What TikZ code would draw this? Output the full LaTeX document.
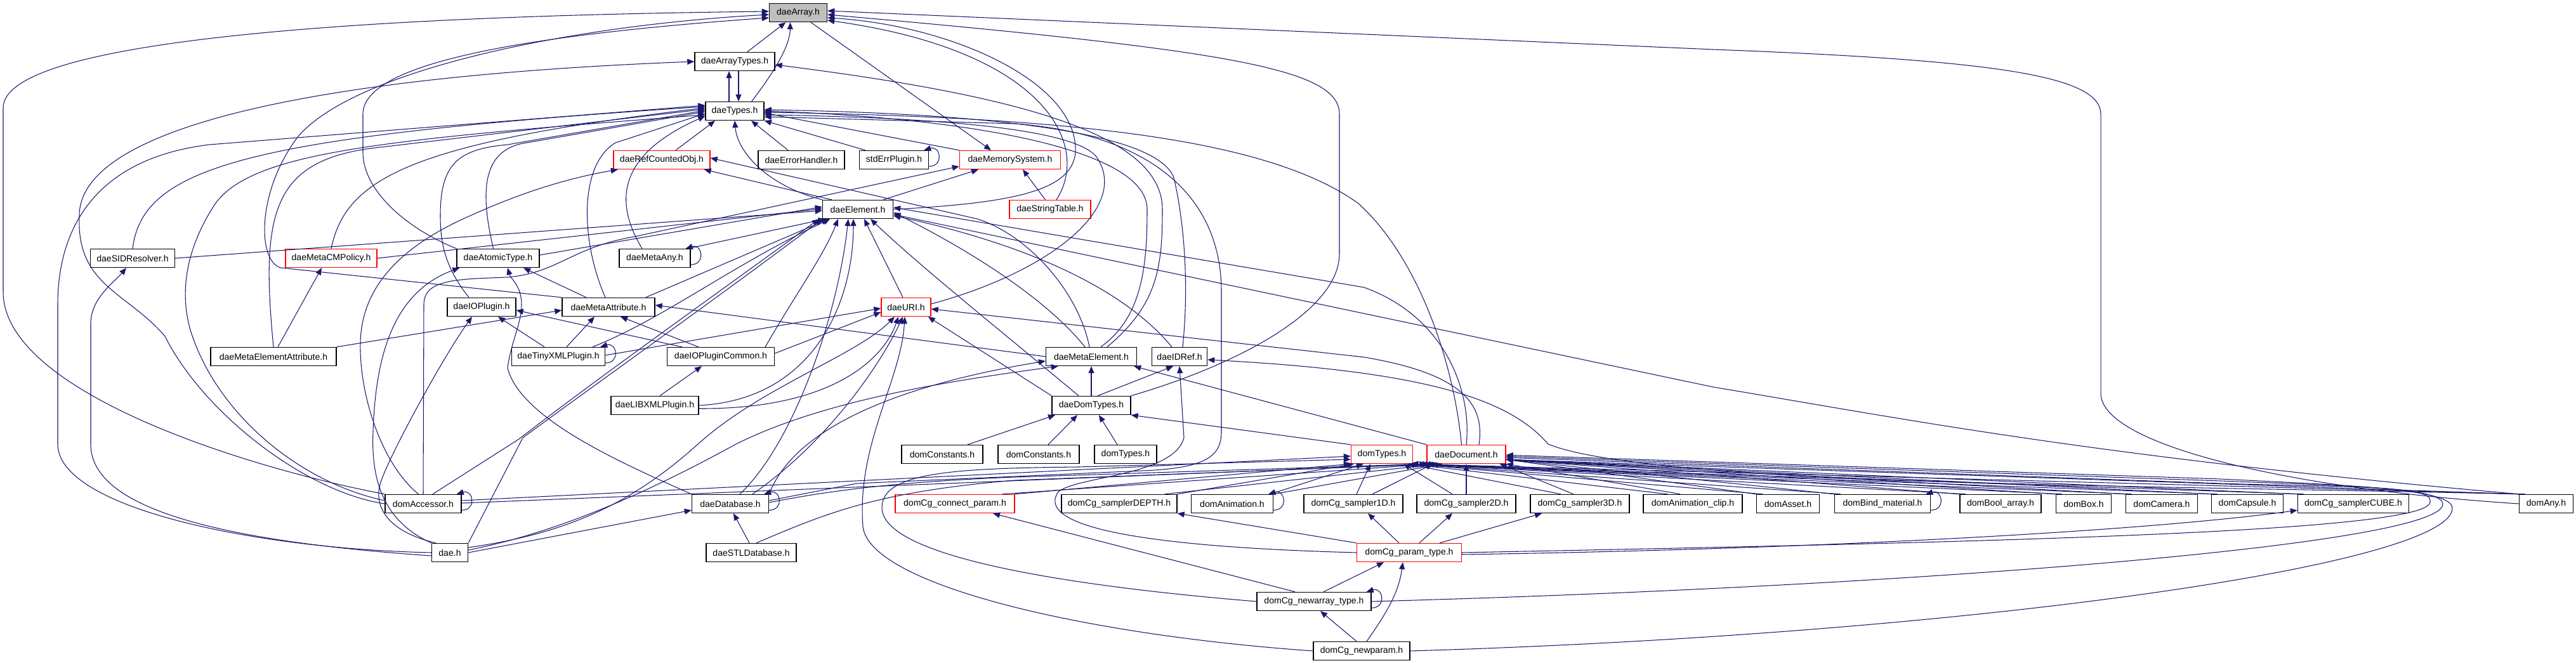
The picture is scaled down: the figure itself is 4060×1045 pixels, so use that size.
\documentclass[tikz,border=0pt]{standalone}
\usepackage{fontspec}
\setmainfont{Liberation Sans}
\usetikzlibrary{arrows.meta}
\definecolor{edgeblue}{HTML}{191970}
\newcommand{\selfloop}[1]{\draw [dep] ([yshift=1mm]#1.south east) .. controls +(24,0) and +(26,-8) .. ([xshift=-1.6mm]#1.north east);}

\begin{document}
\begin{tikzpicture}[x=0.2mm, y=-0.2mm, >={Triangle[length=2.2mm, width=1.8mm]},
    hdr/.style={rectangle, draw=black, fill=white, line width=0.8pt,
                minimum height=5.8mm, inner sep=0pt, text centered,
                font=\fontsize{8}{9}\selectfont},
    cut/.style={hdr, draw=red},
    root/.style={hdr, fill=black!25},
    dep/.style={->, line width=0.6pt, edgeblue}]

    \fill [white] (0,0) rectangle (4060,1045);
    \useasboundingbox (0,0) rectangle (4060,1045);

    % ---------------- headers ----------------
    \node (arr)       [root, minimum width=18.2mm] at (1258,20)   {daeArray.h};
    \node (arrtyp)    [hdr,  minimum width=25.2mm] at (1158,97)   {daeArrayTypes.h};
    \node (types)     [hdr,  minimum width=18.4mm] at (1158,175)  {daeTypes.h};
    \node (refobj)    [cut,  minimum width=30.4mm] at (1043,252)  {daeRefCountedObj.h};
    \node (errh)      [hdr,  minimum width=27.2mm] at (1263,252)  {daeErrorHandler.h};
    \node (stderr)    [hdr,  minimum width=21.8mm] at (1409,252)  {stdErrPlugin.h};
    \node (memsys)    [cut,  minimum width=31.8mm] at (1592,252)  {daeMemorySystem.h};
    \node (elem)      [hdr,  minimum width=22.2mm] at (1352,330)  {daeElement.h};
    \node (strtab)    [cut,  minimum width=25.6mm] at (1655,330)  {daeStringTable.h};
    \node (sid)       [hdr,  minimum width=26.6mm] at (209,407)   {daeSIDResolver.h};
    \node (cmpol)     [cut,  minimum width=28.8mm] at (522,407)   {daeMetaCMPolicy.h};
    \node (atomic)    [hdr,  minimum width=26mm]   at (785,407)   {daeAtomicType.h};
    \node (metaany)   [hdr,  minimum width=22.4mm] at (1032,407)  {daeMetaAny.h};
    \node (iopl)      [hdr,  minimum width=21.6mm] at (759,484)   {daeIOPlugin.h};
    \node (metaattr)  [hdr,  minimum width=29.2mm] at (959,484)   {daeMetaAttribute.h};
    \node (uri)       [cut,  minimum width=15.6mm] at (1428,484)  {daeURI.h};
    \node (metaelattr)[hdr,  minimum width=39.6mm] at (431,562)   {daeMetaElementAttribute.h};
    \node (tinyxml)   [hdr,  minimum width=29.4mm] at (880,562)   {daeTinyXMLPlugin.h};
    \node (ioplc)     [hdr,  minimum width=33.8mm] at (1136,562)  {daeIOPluginCommon.h};
    \node (metael)    [hdr,  minimum width=28.6mm] at (1720,562)  {daeMetaElement.h};
    \node (idref)     [hdr,  minimum width=17.4mm] at (1859,562)  {daeIDRef.h};
    \node (libxml)    [hdr,  minimum width=27.6mm] at (1032,639)  {daeLIBXMLPlugin.h};
    \node (domtypes)  [hdr,  minimum width=24.8mm] at (1720,639)  {daeDomTypes.h};
    \node (const1)    [hdr,  minimum width=25.6mm] at (1485,716)  {domConstants.h};
    \node (const2)    [hdr,  minimum width=25.6mm] at (1637,716)  {domConstants.h};
    \node (dtypes1)   [hdr,  minimum width=19.6mm] at (1774,716)  {domTypes.h};
    \node (dtypes2)   [cut,  minimum width=19.4mm] at (2178,716)  {domTypes.h};
    \node (doc)       [cut,  minimum width=24.8mm] at (2311,716)  {daeDocument.h};
    \node (accessor)  [hdr,  minimum width=24mm]   at (667,794)   {domAccessor.h};
    \node (database)  [hdr,  minimum width=24.2mm] at (1151,794)  {daeDatabase.h};
    \node (cgconn)    [cut,  minimum width=37.6mm] at (1505,794)  {domCg\_connect\_param.h};
    \node (cgdepth)   [hdr,  minimum width=36.4mm] at (1764,794)  {domCg\_samplerDEPTH.h};
    \node (anim)      [hdr,  minimum width=25.8mm] at (1942,794)  {domAnimation.h};
    \node (cg1d)      [hdr,  minimum width=31.2mm] at (2133,794)  {domCg\_sampler1D.h};
    \node (cg2d)      [hdr,  minimum width=31.2mm] at (2311,794)  {domCg\_sampler2D.h};
    \node (cg3d)      [hdr,  minimum width=31.2mm] at (2490,794)  {domCg\_sampler3D.h};
    \node (animclip)  [hdr,  minimum width=31.2mm] at (2668,794)  {domAnimation\_clip.h};
    \node (asset)     [hdr,  minimum width=19.8mm] at (2818,794)  {domAsset.h};
    \node (bindmat)   [hdr,  minimum width=30.2mm] at (2967,794)  {domBind\_material.h};
    \node (boolarr)   [hdr,  minimum width=25.6mm] at (3153,794)  {domBool\_array.h};
    \node (box)       [hdr,  minimum width=17.4mm] at (3284,794)  {domBox.h};
    \node (camera)    [hdr,  minimum width=22.6mm] at (3407,794)  {domCamera.h};
    \node (capsule)   [hdr,  minimum width=22.6mm] at (3542,794)  {domCapsule.h};
    \node (cgcube)    [hdr,  minimum width=35mm]   at (3709,794)  {domCg\_samplerCUBE.h};
    \node (any)       [hdr,  minimum width=17mm]   at (4013,794)  {domAny.h};
    \node (dae)       [hdr,  minimum width=11.4mm] at (709,871)   {dae.h};
    \node (stldb)     [hdr,  minimum width=28.4mm] at (1184,871)  {daeSTLDatabase.h};
    \node (paramtype) [cut,  minimum width=33mm]   at (2221,871)  {domCg\_param\_type.h};
    \node (newarr)    [hdr,  minimum width=36mm]   at (2071,948)  {domCg\_newarray\_type.h};
    \node (newparam)  [hdr,  minimum width=30.4mm] at (2146,1026) {domCg\_newparam.h};

    % ---------------- top of the graph ----------------
    \draw [dep] (arrtyp) -- (arr);
    \draw [dep] ([xshift=-4mm]types.north east) .. controls (1215,120) and (1245,75) .. ([xshift=-2.5mm]arr.south);
    \draw [dep] ([xshift=-1.8mm]types.north) -- ([xshift=-1.8mm]arrtyp.south);
    \draw [dep] ([xshift=1.2mm]arrtyp.south) -- ([xshift=1.2mm]types.north);
    \draw [dep] ([xshift=4mm]arr.south) -- ([xshift=-6mm]memsys.north);
    \draw [dep] ([xshift=4.4mm]refobj.north) -- ([xshift=-6.2mm]types.south);
    \draw [dep] ([xshift=-4.2mm]errh.north) -- ([xshift=5.2mm]types.south);
    \draw [dep] ([xshift=-9mm]stderr.north) -- (types.south east);
    \draw [dep] (memsys.north west) -- ([yshift=-0.6mm]types.east);
    \selfloop{stderr}
    \draw [dep] (elem.north west) .. controls (1210,293) and (1162,240) .. (types.south);
    \draw [dep] ([xshift=3mm]elem.north west) -- ([xshift=-2mm]refobj.south east);
    \draw [dep] ([xshift=8mm]elem.north) -- ([xshift=-10mm]memsys.south);
    \draw [dep] (elem.east) .. controls (1600,320) and (1690,300) .. (1695,240) .. controls (1700,130) and (1500,40) .. ([yshift=-1.6mm]arr.east);
    \draw [dep] ([xshift=-1.5mm]strtab.north) -- ([xshift=4mm]memsys.south);
    \draw [dep] ([xshift=2mm]strtab.north) .. controls (1720,230) and (1650,80) .. ([yshift=-2.4mm]arr.east);

    % long routes into daeArray.h
    \draw [dep] (domtypes.north east) .. controls (1950,575) and (2111,490) .. (2111,400) -- (2111,180) .. controls (2111,110) and (1950,80) .. ([yshift=-0.6mm]arr.east);
    \draw [dep] (any.west) .. controls (3600,770) and (3311,700) .. (3311,620) -- (3311,180) .. controls (3311,120) and (3150,95) .. (2700,78) -- ([yshift=0.6mm]arr.east);
    \draw [dep] (accessor.north west) .. controls (400,740) and (5,620) .. (5,460) -- (5,170) .. controls (5,60) and (600,25) .. ([yshift=0.4mm]arr.west);
    \draw [dep] (metaattr.north west) -- (442,422) .. controls (405,410) and (405,300) .. (470,215) .. controls (560,110) and (900,40) .. ([yshift=-0.6mm]arr.west);
    \draw [dep] (atomic.north west) .. controls (640,360) and (572,300) .. (572,240) -- (572,180) .. controls (572,110) and (760,60) .. ([yshift=-1.6mm]arr.west);

    % left column into daeTypes.h
    \draw [dep] (sid.north) .. controls (225,260) and (400,215) .. ([yshift=1.4mm]types.west);
    \draw [dep] (cmpol.north) .. controls (545,280) and (650,225) .. ([yshift=1mm]types.west);
    \draw [dep] (metaelattr.north) .. controls (410,330) and (430,250) .. (600,232) -- ([yshift=0.6mm]types.west);
    \draw [dep] ([xshift=-1.5mm]atomic.north) .. controls (756,300) and (760,235) .. (830,225) -- ([yshift=-0.2mm]types.west);
    \draw [dep] ([xshift=-4mm]iopl.north) .. controls (700,420) and (694,380) .. (694,340) .. controls (694,260) and (720,235) .. (800,228) -- ([yshift=0.2mm]types.west);
    \draw [dep] ([xshift=-1mm]metaattr.north) .. controls (915,380) and (912,260) .. (970,225) -- ([yshift=-0.8mm]types.west);
    \draw [dep] ([xshift=-4mm]metaany.north) .. controls (975,330) and (960,250) .. ([yshift=-1.6mm]types.west);
    \draw [dep] (dae.west) .. controls (400,865) and (91,800) .. (91,700) -- (91,480) .. controls (91,360) and (150,250) .. (330,228) -- ([yshift=1.8mm]types.west);
    \draw [dep] ([yshift=-1mm]dae.west) .. controls (300,850) and (143,790) .. (143,700) -- (143,510) .. controls (143,470) and (180,445) .. ([xshift=-2mm]sid.south);
    \draw [dep] (accessor.west) .. controls (480,775) and (320,650) .. (260,530) .. controls (200,460) and (120,450) .. (125,340) .. controls (125,200) and (500,120) .. (arrtyp.west);
    \draw [dep] ([yshift=1mm]accessor.west) .. controls (470,760) and (340,650) .. (300,520) .. controls (280,450) and (300,380) .. (340,320) .. controls (400,240) and (600,220) .. ([yshift=-1.2mm]types.west);
    \draw [dep] ([xshift=-1.5mm]accessor.north) .. controls (600,730) and (566,620) .. (568,540) .. controls (570,440) and (650,380) .. (741,340) .. controls (830,300) and (900,280) .. ([xshift=1.5mm]refobj.south west);
    \draw [dep] (accessor.north) -- (668,480) .. controls (668,440) and (720,440) .. (800,437) .. controls (880,430) and (900,390) .. (1000,373) -- ([yshift=1mm]memsys.south west);
    \draw [dep] ([xshift=3mm]accessor.north) -- (818,692) .. controls (950,590) and (1120,470) .. ([xshift=-1mm]elem.south west);
    \selfloop{accessor}

    % fan-in of daeElement.h
    \draw [dep] (sid.east) -- ([yshift=-0.4mm]elem.west);
    \draw [dep] (cmpol.east) -- ([yshift=0.2mm]elem.west);
    \draw [dep] ([yshift=1mm]atomic.east) -- ([yshift=0.8mm]elem.west);
    \draw [dep] ([xshift=-1mm]metaany.north east) -- ([xshift=1mm]elem.south west);
    \draw [dep] ([xshift=-3mm]metaattr.north east) -- ([xshift=2mm]elem.south west);
    \selfloop{metaany}
    \draw [dep] ([xshift=-7mm]metaattr.north) -- ([xshift=8mm]atomic.south);
    \draw [dep] ([xshift=1.4mm]metaelattr.north) -- ([xshift=-3mm]cmpol.south);
    \draw [dep] (metaelattr.north east) -- ([yshift=-1mm]metaattr.west);

    % plugins
    \draw [dep] ([xshift=-4.4mm]tinyxml.north) -- ([xshift=5.2mm]iopl.south);
    \draw [dep] ([xshift=2.6mm]tinyxml.north) -- ([xshift=-4.4mm]metaattr.south);
    \draw [dep] ([xshift=-4mm]tinyxml.north east) .. controls (1050,500) and (1150,420) .. ([xshift=2.5mm]elem.south west);
    \draw [dep] ([yshift=0.4mm]tinyxml.east) -- ([yshift=-0.4mm]uri.west);
    \selfloop{tinyxml}
    \draw [dep] ([xshift=4.8mm]ioplc.north west) -- ([yshift=-1mm]iopl.east);
    \draw [dep] ([xshift=10mm]ioplc.north west) -- ([xshift=3.8mm]metaattr.south);
    \draw [dep] ([xshift=-3mm]ioplc.north east) .. controls (1250,470) and (1300,400) .. ([xshift=5mm]elem.south west);
    \draw [dep] ([yshift=1mm]ioplc.east) -- ([yshift=-1.6mm]uri.west);
    \draw [dep] ([xshift=1.6mm]libxml.north) -- ([xshift=-6mm]ioplc.south);
    \draw [dep] (libxml.east) .. controls (1280,630) and (1345,480) .. ([xshift=-1.4mm]elem.south);
    \draw [dep] ([yshift=-1mm]libxml.east) .. controls (1320,645) and (1395,560) .. ([xshift=-2.4mm]uri.south);

    % daeURI.h, daeMetaElement.h, daeIDRef.h
    \draw [dep] ([xshift=-1mm]uri.north) -- ([xshift=2mm]elem.south);
    \draw [dep] ([yshift=1mm]uri.east) .. controls (1650,430) and (1780,330) .. (1730,250) .. controls (1700,200) and (1450,185) .. ([yshift=-1.2mm]types.east);
    \draw [dep] ([xshift=-2mm]metael.north) .. controls (1640,460) and (1500,380) .. ([yshift=-1mm]elem.east);
    \draw [dep] ([xshift=-0.6mm]metael.north) .. controls (1700,460) and (1620,370) .. (1540,345) -- ([yshift=0.6mm]refobj.east);
    \draw [dep] ([xshift=3mm]metael.north) .. controls (1800,500) and (1808,420) .. (1808,330) .. controls (1808,230) and (1500,185) .. (types.east);
    \draw [dep] ([xshift=5mm]metael.north) .. controls (1825,480) and (1832,420) .. (1832,330) .. controls (1832,210) and (1600,150) .. ([yshift=-1mm]arrtyp.east);
    \draw [dep] (metael.west) -- ([yshift=0.6mm]metaattr.east);
    \draw [dep] ([xshift=-2.4mm]idref.north) .. controls (1750,430) and (1550,370) .. ([yshift=-2mm]elem.east);
    \draw [dep] ([xshift=1mm]idref.north) .. controls (1876,430) and (1862,330) .. (1850,280) .. controls (1820,200) and (1500,178) .. ([yshift=0.4mm]types.east);

    % daeDomTypes.h
    \draw [dep] (domtypes.north) -- (metael.south);
    \draw [dep] ([xshift=2mm]domtypes.north) -- ([xshift=-2mm]idref.south);
    \draw [dep] ([xshift=-4mm]domtypes.north) .. controls (1600,540) and (1450,420) .. ([xshift=4mm]elem.south);
    \draw [dep] (domtypes.north west) -- ([xshift=-1mm]uri.south east);
    \draw [dep] ([xshift=8mm]const1.north) -- ([xshift=-11.4mm]domtypes.south);
    \draw [dep] ([xshift=3mm]const2.north) -- ([xshift=-4.4mm]domtypes.south);
    \draw [dep] ([xshift=-2.6mm]dtypes1.north) -- ([xshift=2.4mm]domtypes.south);
    \draw [dep] (dtypes2.north west) -- (domtypes.south east);

    % daeDocument.h
    \draw [dep] ([xshift=-1.5mm]doc.north) .. controls (2290,560) and (2230,400) .. (2140,320) .. controls (2000,220) and (1700,185) .. ([yshift=-0.4mm]types.east);
    \draw [dep] (doc.north) .. controls (2320,620) and (2280,500) .. (2150,453) -- ([yshift=0.6mm]elem.east);
    \draw [dep] (doc.north west) -- ([xshift=-1mm]metael.south east);
    \draw [dep] ([xshift=4mm]doc.north) .. controls (2340,640) and (2310,590) .. (2150,563) -- ([yshift=-0.6mm]uri.east);

    % dae.h and the databases
    \draw [dep] (dae.north west) .. controls (600,820) and (585,750) .. (588,680) .. controls (592,560) and (620,460) .. ([xshift=1mm]atomic.south west);
    \draw [dep] ([xshift=1.4mm]dae.north west) .. controls (600,835) and (590,790) .. (600,760) .. controls (615,715) and (700,560) .. ([xshift=-3mm]iopl.south);
    \draw [dep] (dae.north east) -- (824,690) .. controls (960,590) and (1130,470) .. (elem.south west);
    \draw [dep] (dae.east) -- ([yshift=1mm]database.south west);
    \draw [dep] ([yshift=1.6mm]dae.east) .. controls (900,840) and (1000,790) .. (1100,700) .. controls (1200,610) and (1350,560) .. ([xshift=-3.6mm]uri.south);
    \draw [dep] ([yshift=0.8mm]dae.east) .. controls (900,835) and (1050,760) .. (1160,700) .. controls (1300,630) and (1500,600) .. ([xshift=4mm]metael.south west);
    \draw [dep] (database.north west) .. controls (980,730) and (820,660) .. (800,580) .. controls (805,540) and (822,510) .. (822,480) .. controls (822,450) and (805,440) .. ([xshift=3mm]atomic.south);
    \draw [dep] ([yshift=1mm]database.east) -- (1350,762) -- (1800,742) .. controls (1900,738) and (1925,720) .. (1925,680) -- (1925,460) .. controls (1925,300) and (1800,210) .. (1600,195) -- ([yshift=-1.8mm]types.east);
    \draw [dep] ([xshift=3mm]database.north) .. controls (1250,700) and (1320,500) .. ([xshift=-3mm]elem.south);
    \draw [dep] ([xshift=7mm]database.north) .. controls (1300,700) and (1385,580) .. ([xshift=-1mm]uri.south);
    \draw [dep] (database.north east) .. controls (1250,680) and (1400,610) .. ([yshift=-1.4mm]metael.west);
    \draw [dep] ([yshift=0.4mm]database.east) .. controls (1300,775) and (1400,760) .. (1600,752) -- (doc.south west);
    \selfloop{database}
    \draw [dep] ([xshift=-0.6mm]stldb.north) -- ([xshift=1mm]database.south);
    \draw [dep] ([xshift=1.6mm]stldb.north) .. controls (1300,810) and (1380,775) .. (1600,757) -- ([xshift=3mm]doc.south west);
    \draw [dep] ([yshift=1mm]accessor.east) -- ([yshift=-0.6mm]dtypes2.west);
    \draw [dep] ([yshift=0.2mm]accessor.east) -- ([xshift=1mm]doc.south west);

    % dom row into domTypes.h and daeDocument.h
    \draw [dep] (cgconn.north east) -- (dtypes2.south west);
    \draw [dep] ([xshift=-4mm]cgconn.north east) -- ([xshift=2mm]doc.south west);
    \draw [dep] (cgdepth.north east) -- ([xshift=1mm]dtypes2.south west);
    \draw [dep] ([xshift=-4mm]cgdepth.north east) -- ([xshift=4mm]doc.south west);
    \draw [dep] ([xshift=-1mm]anim.north east) -- ([xshift=4mm]dtypes2.south west);
    \draw [dep] (anim.north east) -- ([xshift=5mm]doc.south west);
    \selfloop{anim}
    \draw [dep] ([xshift=1mm]cg1d.north) -- ([xshift=-3.6mm]dtypes2.south);
    \draw [dep] ([xshift=6mm]cg1d.north) -- ([xshift=2mm]doc.south west);
    \draw [dep] ([xshift=-4.4mm]cg2d.north) -- ([xshift=6.8mm]dtypes2.south);
    \draw [dep] (cg2d.north) -- (doc.south);
    \draw [dep] ([xshift=-6mm]cg3d.north) -- ([xshift=8mm]dtypes2.south);
    \draw [dep] ([xshift=-2mm]cg3d.north) -- ([xshift=-2mm]doc.south east);
    \draw [dep] ([xshift=-8mm]animclip.north) -- ([xshift=8.6mm]dtypes2.south);
    \draw [dep] ([xshift=-4mm]animclip.north) -- (doc.south east);
    \foreach \n in {asset,bindmat,boolarr,box,camera,capsule,cgcube,any} {
        \draw [dep] (\n.north west) -- ([yshift=1.4mm]doc.south east);
        \draw [dep] ([xshift=2mm]\n.north west) -- ([xshift=9.2mm]dtypes2.south);
    }
    \selfloop{bindmat}
    \draw [dep] (any.north west) .. controls (3300,720) and (3000,660) .. (2700,610) -- ([yshift=-1.6mm]elem.east);
    \draw [dep] (any.north west) .. controls (3400,765) and (2600,765) .. (2440,700) .. controls (2380,630) and (2250,585) .. ([yshift=-1mm]idref.east);

    % Cg parameter types
    \draw [dep] (paramtype.east) .. controls (3100,855) and (3840,840) .. (3830,790) .. controls (3835,765) and (3700,768) .. (3500,762) -- ([yshift=2mm]doc.south east);
    \draw [dep] (paramtype.north west) -- (cgdepth.south east);
    \draw [dep] ([xshift=-3.2mm]paramtype.north) -- ([xshift=4.6mm]cg1d.south);
    \draw [dep] ([xshift=3.2mm]paramtype.north) -- ([xshift=-4.4mm]cg2d.south);
    \draw [dep] ([xshift=-7mm]paramtype.north east) -- ([xshift=-12mm]cg3d.south);
    \draw [dep] ([yshift=-0.6mm]paramtype.east) .. controls (2900,865) and (3400,835) .. ([yshift=1mm]cgcube.south west);
    \draw [dep] (paramtype.west) .. controls (1800,862) and (1630,830) .. (1668,775) .. controls (1700,750) and (1850,750) .. (1866,690) -- (idref.south);
    \draw [dep] ([xshift=3mm]newarr.north) -- ([xshift=-8mm]paramtype.south);
    \draw [dep] ([xshift=-6mm]newarr.north) -- ([xshift=12mm]cgconn.south);
    \selfloop{newarr}
    \draw [dep] (newarr.east) .. controls (3000,925) and (3845,860) .. (3850,795) .. controls (3852,768) and (3700,766) .. (3500,758) -- ([yshift=2.4mm]doc.south east);
    \draw [dep] (newarr.west) .. controls (1700,925) and (1390,880) .. (1390,800) .. controls (1390,745) and (1500,738) .. (1700,736) -- ([yshift=-1.6mm]dtypes2.west);
    \draw [dep] ([xshift=-1.6mm]newparam.north) -- ([xshift=2mm]newarr.south);
    \draw [dep] ([xshift=1.6mm]newparam.north) .. controls (2190,960) and (2205,930) .. ([xshift=-2mm]paramtype.south);
    \draw [dep] (newparam.east) .. controls (3100,1000) and (3870,890) .. (3865,800) .. controls (3862,770) and (3700,765) .. (3500,755) -- ([yshift=2.8mm]doc.south east);
    \draw [dep] (newparam.west) .. controls (1700,1000) and (1370,920) .. (1360,830) .. controls (1350,700) and (1420,600) .. ([xshift=-0.4mm]uri.south);
\end{tikzpicture}
\end{document}
